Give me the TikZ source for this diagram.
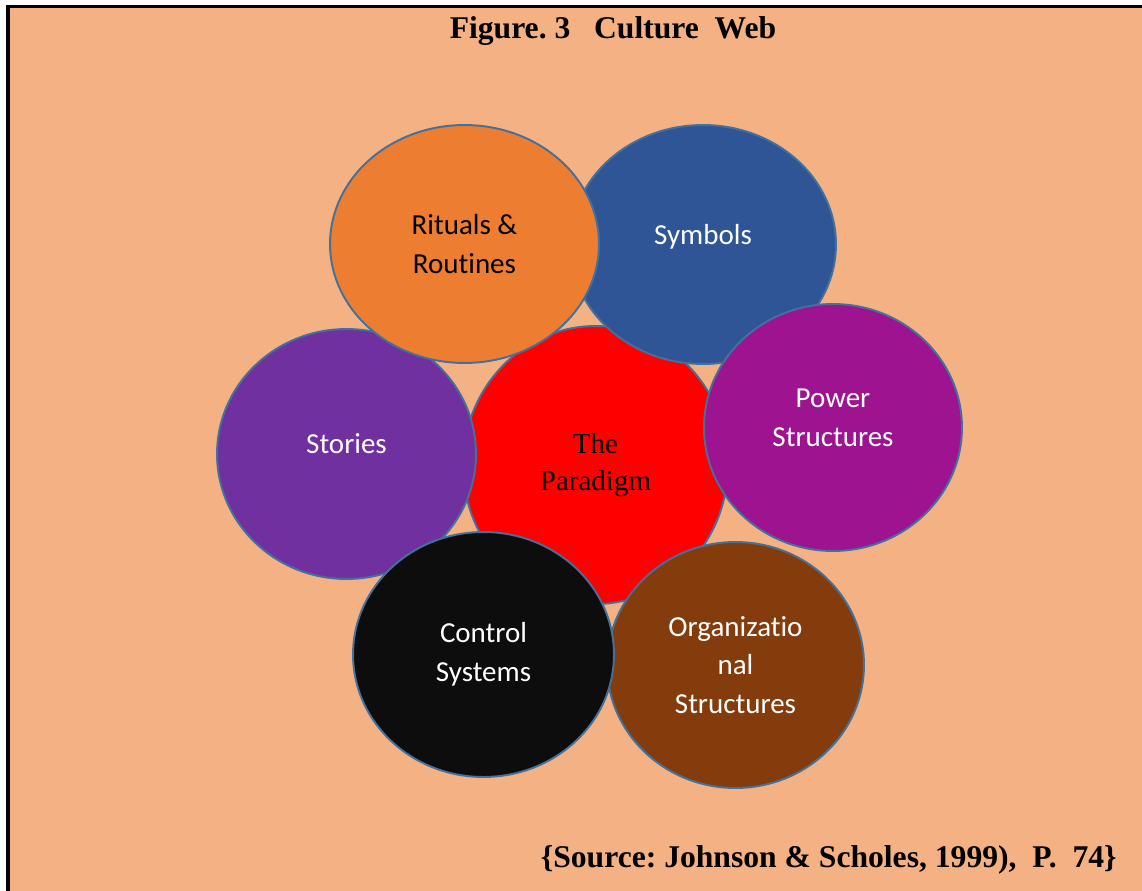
\documentclass[tikz,border=0pt]{standalone}
\usepackage{fontspec}
\setmainfont{Liberation Serif}
\newfontfamily\calibri[Ligatures=NoCommon]{Carlito}
\usetikzlibrary{shapes.geometric}
\frenchspacing

\definecolor{peach}{HTML}{F4B183}
\definecolor{edgeblue}{HTML}{41719C}
\definecolor{ritualsorange}{HTML}{ED7D31}
\definecolor{symbolsblue}{HTML}{2F5597}
\definecolor{paradigmred}{HTML}{FF0000}
\definecolor{storiespurple}{HTML}{7030A0}
\definecolor{powermagenta}{HTML}{9E1490}
\definecolor{controlblack}{HTML}{0D0D0D}
\definecolor{orgbrown}{HTML}{843C0C}

\tikzset{
	web/.style={ellipse, draw=edgeblue, line width=1.1pt, inner sep=0pt},
	wtext/.style={align=center, text=white, font=\calibri\fontsize{16.5}{22}\selectfont}
}

\begin{document}
\begin{tikzpicture}[x=0.02cm, y=-0.02cm]
	\useasboundingbox (0,0) rectangle (1142,891);
	\fill[peach] (8,6.5) rectangle (1142,891);
	\draw[line width=2pt] (8,891) -- (8,6.5) -- (1142,6.5);

	\node at (613,39) [anchor=base, font=\bfseries\fontsize{18}{20}\selectfont] (title) {Figure. 3\ \ \ Culture\ \ Web};

	\node at (595.5,465) [web, fill=paradigmred, minimum width=5.3cm, minimum height=5.56cm] (paradigm) {};
	\node at (paradigm) [align=center, font=\fontsize{16.5}{21}\selectfont] (paradigmT) {The\\Paradigm};

	\node at (346.5,454) [web, fill=storiespurple, minimum width=5.18cm, minimum height=5cm] (stories) {};
	\node at (stories) [wtext, yshift=0.2cm] (storiesT) {Stories};

	\node at (703,244.5) [web, fill=symbolsblue, minimum width=5.32cm, minimum height=4.78cm] (symbols) {};
	\node at (symbols) [wtext, yshift=0.16cm] (symbolsT) {Symbols};

	\node at (464.5,244) [web, fill=ritualsorange, minimum width=5.38cm, minimum height=4.76cm] (rituals) {};
	\node at (rituals) [wtext, text=black] (ritualsT) {Rituals \&\\Routines};

	\node at (833,427.5) [web, fill=powermagenta, minimum width=5.16cm, minimum height=4.94cm] (power) {};
	\node at (power) [wtext, yshift=0.2cm] (powerT) {Power\\Structures};

	\node at (735.5,665) [web, fill=orgbrown, minimum width=5.14cm, minimum height=4.92cm] (org) {};
	\node at (org) [wtext] (orgT) {Organizatio\\nal\\Structures};

	\node at (483.5,654.5) [web, fill=controlblack, minimum width=5.22cm, minimum height=4.9cm] (control) {};
	\node at (control) [wtext] (controlT) {Control\\Systems};

	\node at (1117,867) [anchor=base east, inner sep=0pt, font=\bfseries\fontsize{18}{20}\selectfont] (source) {\{Source: Johnson \& Scholes, 1999),\ \ P.\ \ 74\}};
\end{tikzpicture}
\end{document}
